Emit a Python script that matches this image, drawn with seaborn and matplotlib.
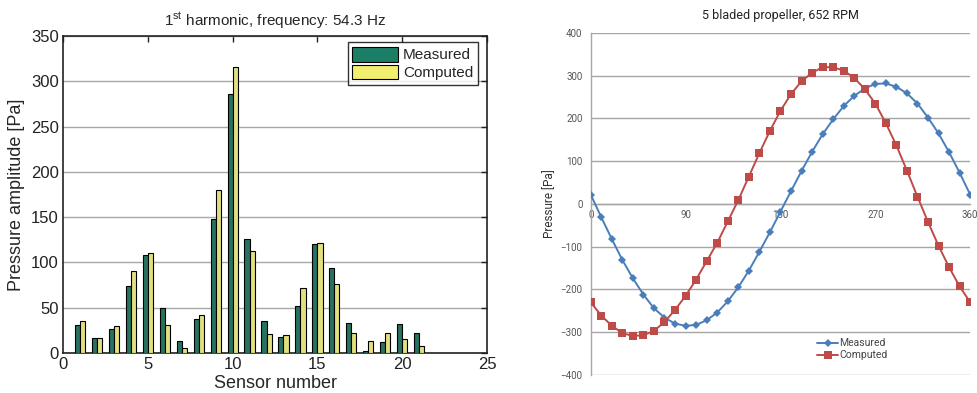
import numpy as np
import pandas as pd
import matplotlib
matplotlib.use("Agg")
import matplotlib.pyplot as plt
import seaborn as sns
from matplotlib.patches import Patch

# ---- Data: left bar chart ----
sensors = list(range(1, 22))
measured_amp = [31, 16, 26, 74, 108, 50, 13, 38, 148, 286, 126, 35,
                18, 52, 120, 94, 33, 2, 12, 32, 22]
computed_amp = [35, 16, 30, 90, 110, 31, 5, 42, 180, 316, 113, 21,
                20, 72, 121, 76, 22, 13, 22, 15, 8]

# ---- Data: right line chart ----
angles = list(range(0, 361, 10))
measured_p = [22, -31, -82, -131, -174, -212, -244, -266, -280, -285,
              -283, -272, -254, -228, -195, -156, -112, -66, -18, 30,
              77, 122, 163, 198, 229, 253, 270, 281, 282, 274,
              259, 235, 202, 165, 121, 73, 22]
computed_p = [-230, -261, -285, -302, -309, -307, -297, -276, -248, -215,
              -177, -134, -91, -41, 9, 64, 119, 171, 218, 257,
              287, 307, 320, 320, 312, 295, 269, 235, 189, 137,
              78, 17, -42, -98, -148, -193, -230]
series_names = ["Measured", "Computed"]

sns.set_theme(style="white")
plt.rcParams['font.family'] = ['Liberation Sans', 'DejaVu Sans']

fig = plt.figure(figsize=(9.78, 3.93), dpi=100)

# ================= Left chart =================
ax1 = fig.add_axes([0.0644, 0.102, 0.4336, 0.806])
bar_df = pd.DataFrame({
    "sensor": sensors * 2,
    "amp": measured_amp + computed_amp,
    "series": [series_names[0]] * len(sensors) + [series_names[1]] * len(sensors),
})
bar_colors = {"Measured": "#1b7e67", "Computed": "#f2ee6f"}
sns.barplot(data=bar_df, x="sensor", y="amp", hue="series", native_scale=True,
            width=0.6, dodge=True, palette=bar_colors, edgecolor="black",
            linewidth=0.8, errorbar=None, ax=ax1, zorder=3, legend=False)
ax1.set_xlim(0, 25)
ax1.set_ylim(0, 350)
ax1.set_xticks([0, 5, 10, 15, 20, 25])
ax1.set_yticks(range(0, 351, 50))
ax1.yaxis.grid(True, color="#a8a8a8", linewidth=1.0, zorder=0)
ax1.xaxis.grid(False)
ax1.set_axisbelow(True)
for s in ax1.spines.values():
    s.set_visible(True)
    s.set_color("#222222")
    s.set_linewidth(1.2)
ax1.tick_params(direction="in", length=4, top=True, right=True, labelsize=12,
                colors="#222222", pad=3, width=1)
ax1.set_xlabel("Sensor number", fontsize=13, labelpad=2)
ax1.set_ylabel("Pressure amplitude [Pa]", fontsize=13, labelpad=4)
ax1.set_title("1$^{\\mathregular{st}}$ harmonic, frequency: 54.3 Hz", fontsize=11, pad=7)
handles = [Patch(facecolor=bar_colors[n], edgecolor="black", linewidth=0.8) for n in series_names]
leg1 = ax1.legend(handles, series_names, loc="upper right", bbox_to_anchor=(0.985, 0.99),
                  fontsize=11, frameon=True, fancybox=False, edgecolor="black",
                  handlelength=3.0, handleheight=1.1, handletextpad=0.3,
                  borderpad=0.3, labelspacing=0.15, borderaxespad=0.2)
leg1.get_frame().set_linewidth(1.0)

# ================= Right chart =================
ax2 = fig.add_axes([0.604, 0.046, 0.388, 0.870])
line_df = pd.DataFrame({
    "angle": angles * 2,
    "pressure": measured_p + computed_p,
    "series": [series_names[0]] * len(angles) + [series_names[1]] * len(angles),
})
line_colors = {"Measured": "#4a7ebb", "Computed": "#be4b48"}
sns.lineplot(data=line_df, x="angle", y="pressure", hue="series", style="series",
             markers={"Measured": "D", "Computed": "s"}, dashes=False,
             palette=line_colors, linewidth=1.4, markersize=4.5,
             markeredgewidth=0, ax=ax2, zorder=3)
for ln in ax2.get_lines():
    if ln.get_marker() == "D":
        ln.set_markersize(4.3)
    elif ln.get_marker() == "s":
        ln.set_markersize(5.2)
ax2.set_xlim(0, 360)
ax2.set_ylim(-400, 400)
ax2.set_xticks([0, 90, 180, 270, 360])
ax2.set_yticks(range(-400, 401, 100))
ax2.yaxis.grid(True, color="#a6a6a6", linewidth=1.0, zorder=0)
ax2.xaxis.grid(False)
for side in ["top", "right"]:
    ax2.spines[side].set_visible(False)
ax2.spines["bottom"].set_position(("data", 0))
ax2.spines["bottom"].set_color("#a6a6a6")
ax2.spines["left"].set_color("#a6a6a6")
ax2.spines["bottom"].set_linewidth(1.0)
ax2.spines["left"].set_linewidth(1.0)
ax2.tick_params(axis="x", direction="inout", length=4, colors="#a6a6a6",
                labelcolor="#555555", labelsize=7, pad=2)
ax2.tick_params(axis="y", direction="out", length=3, colors="#a6a6a6",
                labelcolor="#555555", labelsize=7, pad=3)
for lab in ax2.get_xticklabels() + ax2.get_yticklabels():
    lab.set_family(["Roboto", "DejaVu Sans"])
ax2.set_xlabel("")
ax2.set_ylabel("Pressure [Pa]", fontsize=8.5, family=["Roboto", "DejaVu Sans"],
               color="#333333", labelpad=3)
ax2.set_title("5 bladed propeller, 652 RPM", fontsize=9, family=["Roboto", "DejaVu Sans"],
              color="#222222", pad=10)
h, l = ax2.get_legend_handles_labels()
leg2 = ax2.legend(h, l, loc="center", bbox_to_anchor=(0.69, 0.075), frameon=False,
                  handlelength=2.0, handletextpad=0.1, labelspacing=0.2,
                  prop={"family": ["Roboto", "DejaVu Sans"], "size": 7.5})
for t in leg2.get_texts():
    t.set_color("#444444")

fig.savefig("out.png", dpi=100)
